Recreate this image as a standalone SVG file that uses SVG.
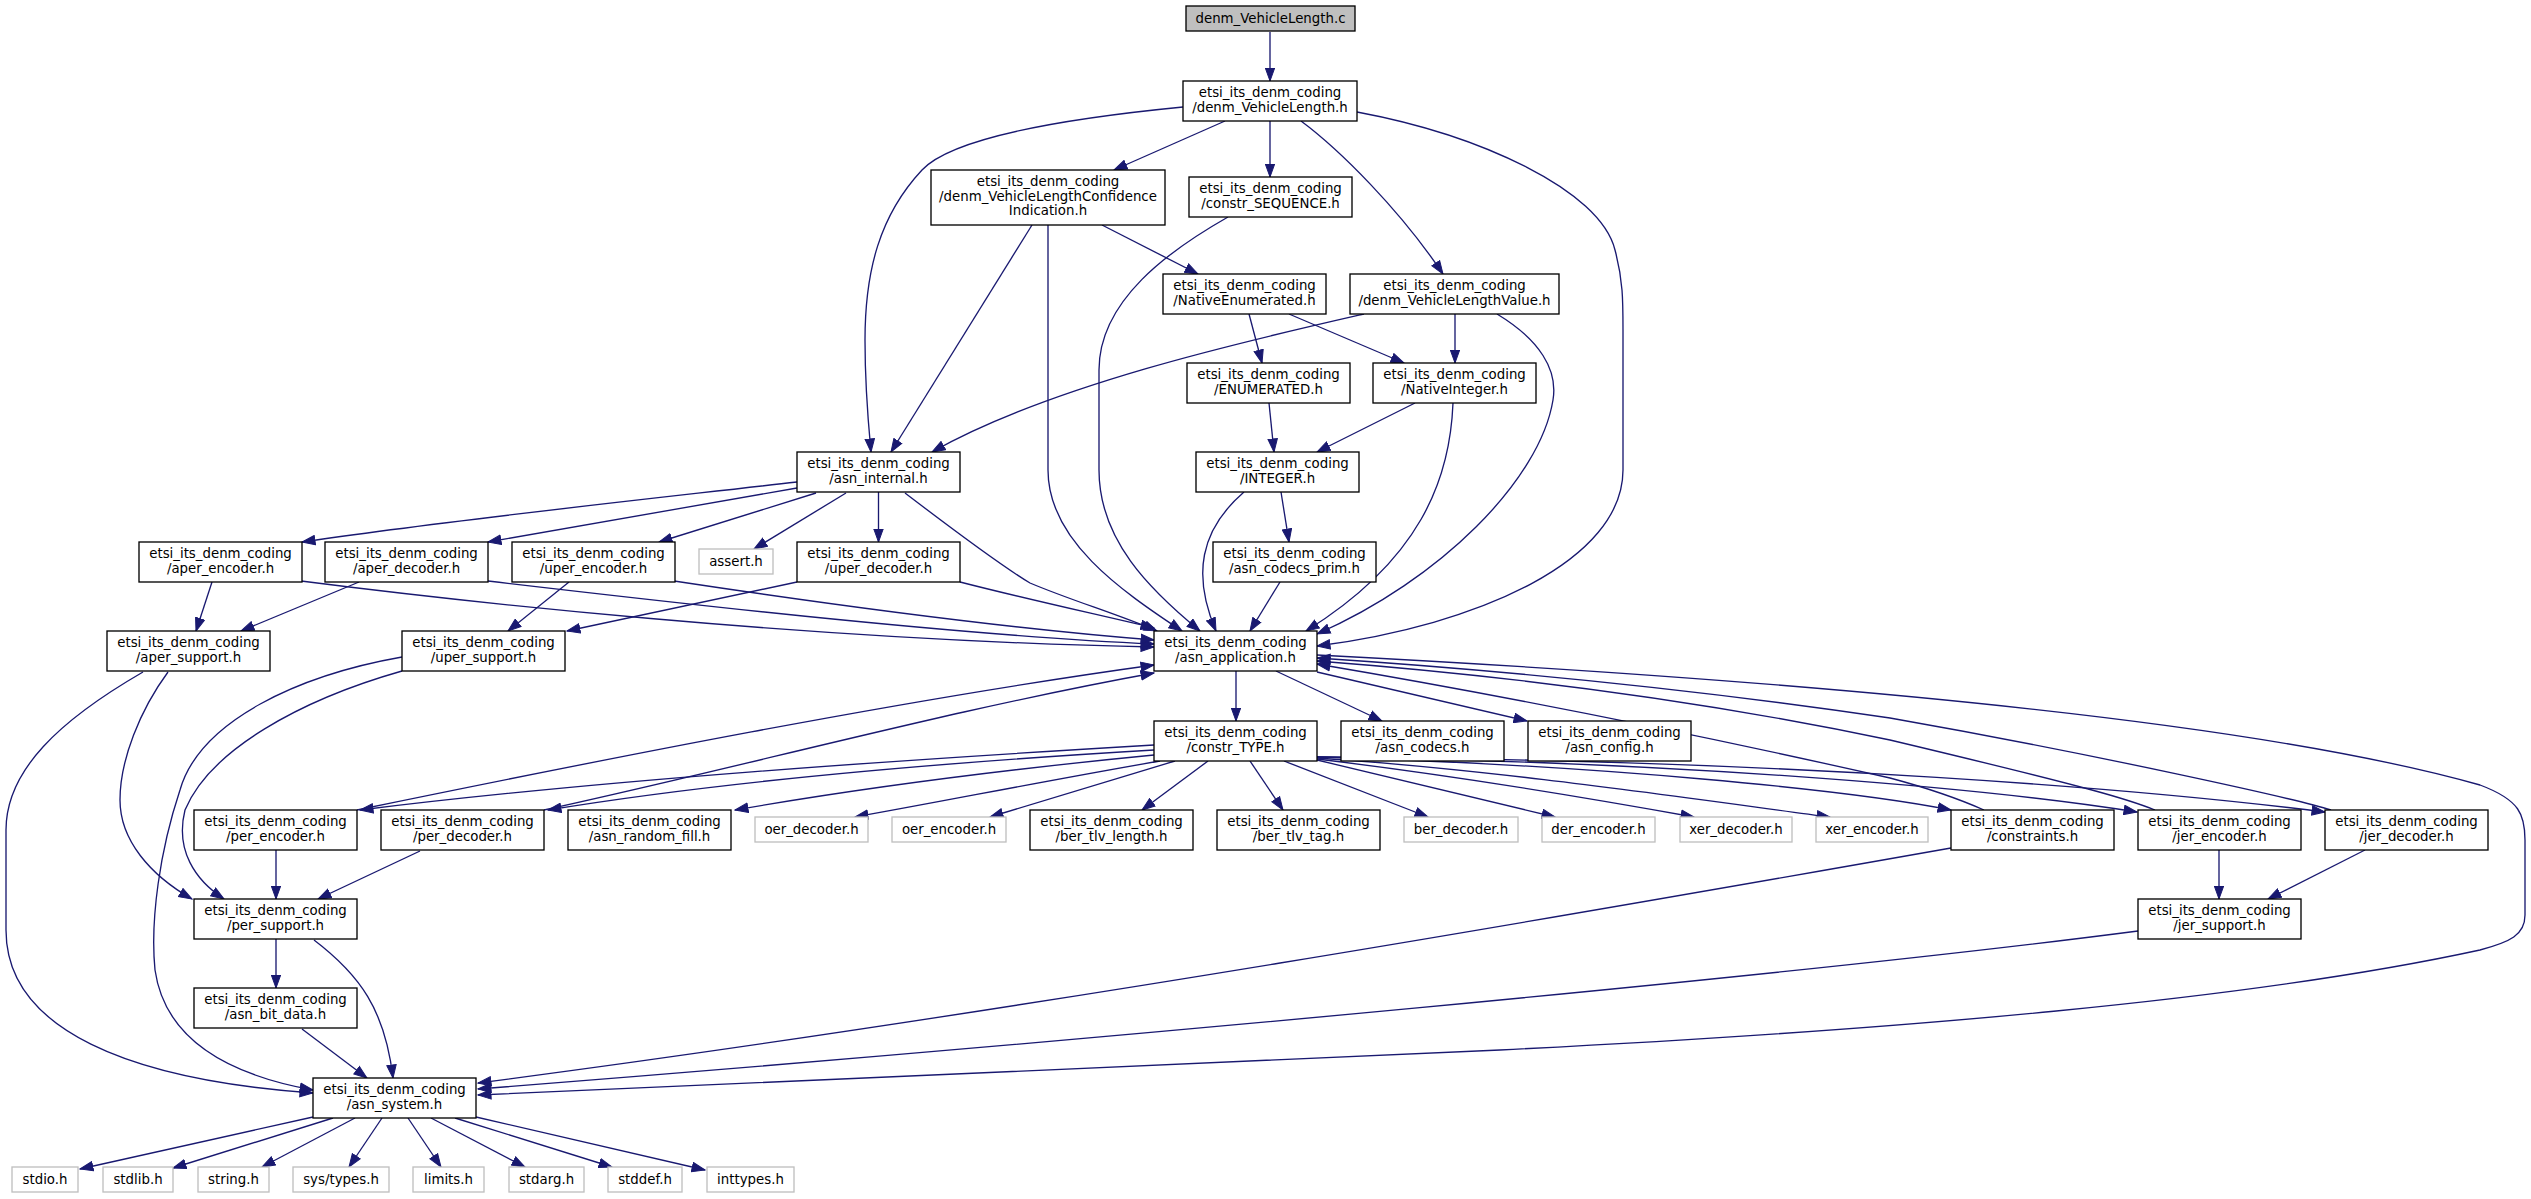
<svg xmlns="http://www.w3.org/2000/svg" width="2531" height="1199" viewBox="0 0 2531 1199">
<style>
.n rect{fill:#fff;stroke:#000;stroke-width:1.33}
.x rect{fill:#fff;stroke:#bfbfbf;stroke-width:1.33}
.top rect{fill:#bfbfbf;stroke:#000;stroke-width:1.33}
text{font-family:"DejaVu Sans","Liberation Sans",sans-serif;font-size:13.33px;fill:#000;text-anchor:middle}
#edges path{fill:none;stroke:#191970;stroke-width:1.33;marker-end:url(#ah)}
</style>
<defs>
<marker id="ah" markerUnits="userSpaceOnUse" markerWidth="15" markerHeight="11" viewBox="0 0 15 11" refX="13.5" refY="5.5" orient="auto"><path d="M0.5,0.8 L13.5,5.5 L0.5,10.2 z" fill="#191970" stroke="#191970" stroke-width="1"/></marker>
</defs>
<rect width="2531" height="1199" fill="#fff"/>
<g id="edges">
<path d="M1270,32 L1270,81"/>
<path d="M1183,107 C1050,120 950,140 922,170 C880,215 865,270 865,340 C865,390 868,420 871,452"/>
<path d="M1225,121 L1114,170"/>
<path d="M1270,121 L1270,177"/>
<path d="M1301,121 C1340,150 1400,210 1443,274"/>
<path d="M1357,112 C1480,135 1600,190 1615,250 C1623,280 1623,300 1623,330 L1623,470 C1623,560 1480,625 1317,646"/>
<path d="M1032,225 L891,452"/>
<path d="M1048,225 L1048,470 C1048,540 1120,590 1182,631"/>
<path d="M1102,225 L1198,274"/>
<path d="M1228,217 C1170,250 1099,300 1099,370 L1099,470 C1099,540 1150,590 1200,631"/>
<path d="M1249,314 L1262,363"/>
<path d="M1289,314 L1404,363"/>
<path d="M1364,314 C1250,340 1050,385 932,452"/>
<path d="M1455,314 L1455,363"/>
<path d="M1497,314 C1540,340 1558,370 1553,400 C1540,480 1440,580 1317,634"/>
<path d="M1415,403 L1317,452"/>
<path d="M1453,403 C1450,480 1420,560 1306,631"/>
<path d="M1269,403 L1274,452"/>
<path d="M1281,492 L1289,542"/>
<path d="M1244,492 C1200,530 1192,575 1216,631"/>
<path d="M1280,582 L1250,631"/>
<path d="M797,482 C640,500 450,520 302,542"/>
<path d="M797,488 L488,542"/>
<path d="M816,493 L659,542"/>
<path d="M846,493 L754,549"/>
<path d="M878.5,492 L878.5,542"/>
<path d="M905,493 C960,535 1000,565 1030,583 C1070,600 1120,615 1157,631"/>
<path d="M212,582 L196,631"/>
<path d="M301,581 C450,600 800,640 1154,647"/>
<path d="M359,582 L241,631"/>
<path d="M488,581 C650,600 950,635 1154,644"/>
<path d="M569,582 L508,631"/>
<path d="M674,581 C800,600 1000,628 1154,640"/>
<path d="M797,582 L567,631"/>
<path d="M960,582 C1030,600 1100,615 1154,628"/>
<path d="M168,672 C140,710 120,760 120,800 C120,840 150,875 192,899"/>
<path d="M143,672 C60,720 6,770 6,830 L6,930 C6,1030 130,1080 313,1093"/>
<path d="M402,671 C300,700 210,750 185,810 C175,850 195,880 224,899"/>
<path d="M402,657 C300,675 200,720 180,790 C160,850 150,920 155,970 C165,1040 230,1075 313,1090"/>
<path d="M276,850 L276,899"/>
<path d="M420,851 L318,899"/>
<path d="M276,939 L276,988"/>
<path d="M314,940 C360,975 385,1010 393,1078"/>
<path d="M302,1029 L367,1078"/>
<path d="M313,1117 L80,1169"/>
<path d="M333,1118 L173,1168"/>
<path d="M355,1118 L262,1167"/>
<path d="M382,1118 L349,1167"/>
<path d="M408,1118 L441,1167"/>
<path d="M431,1118 L525,1167"/>
<path d="M455,1118 L612,1167"/>
<path d="M476,1117 L705,1170"/>
<path d="M1236,671 L1236,721"/>
<path d="M1276,671 L1382,721"/>
<path d="M1317,672 L1527,721"/>
<path d="M1317,655 C1800,680 2250,720 2480,785 C2520,800 2525,815 2525,840 L2525,915 C2525,935 2510,942 2480,950 C2250,1000 1900,1030 1500,1050 C1100,1070 700,1085 478,1095"/>
<path d="M357,810 C600,760 900,700 1154,665"/>
<path d="M544,810 C750,765 950,710 1154,673"/>
<path d="M1984,810 C1950,795 1920,786 1890,778 C1700,735 1500,695 1317,664"/>
<path d="M2155,810 C2130,800 2100,790 1890,740 C1700,700 1500,675 1317,661"/>
<path d="M2331,810 C2300,800 2100,755 1890,718 C1700,690 1500,670 1317,658"/>
<path d="M1154,745 C900,760 600,780 360,810"/>
<path d="M1154,750 C900,765 700,785 548,810"/>
<path d="M1154,755 C1000,770 850,790 735,810"/>
<path d="M1160,761 C1050,780 950,800 855,817"/>
<path d="M1175,761 L990,817"/>
<path d="M1208,761 L1142,810"/>
<path d="M1250,761 L1283,810"/>
<path d="M1284,761 L1428,817"/>
<path d="M1317,760 L1555,817"/>
<path d="M1317,759 C1450,775 1600,800 1694,817"/>
<path d="M1317,758 C1500,770 1700,800 1830,817"/>
<path d="M1317,757 C1600,765 1850,790 1951,810"/>
<path d="M1317,757 C1700,762 2000,790 2137,812"/>
<path d="M1317,757 C1800,760 2150,790 2325,812"/>
<path d="M2219,850 L2219,899"/>
<path d="M2365,850 L2268,899"/>
<path d="M1951,848 C1600,910 1000,1015 478,1083"/>
<path d="M2138,931 C1800,975 1100,1040 478,1089"/>
</g>
<g id="n_c" class="top"><rect x="1186" y="6" width="169" height="25"/><text x="1270.5" y="23">denm_VehicleLength.c</text></g>
<g id="n_vl" class="n"><rect x="1183" y="81" width="174" height="40"/><text x="1270" y="97">etsi_its_denm_coding</text><text x="1270" y="111.7">/denm_VehicleLength.h</text></g>
<g id="n_ci" class="n"><rect x="931" y="170" width="234" height="55"/><text x="1048" y="186">etsi_its_denm_coding</text><text x="1048" y="200.7">/denm_VehicleLengthConfidence</text><text x="1048" y="215.3">Indication.h</text></g>
<g id="n_seq" class="n"><rect x="1189" y="177" width="163" height="40"/><text x="1270.5" y="193">etsi_its_denm_coding</text><text x="1270.5" y="207.7">/constr_SEQUENCE.h</text></g>
<g id="n_ne" class="n"><rect x="1163" y="274" width="163" height="40"/><text x="1244.5" y="290">etsi_its_denm_coding</text><text x="1244.5" y="304.7">/NativeEnumerated.h</text></g>
<g id="n_vlv" class="n"><rect x="1350" y="274" width="209" height="40"/><text x="1454.5" y="290">etsi_its_denm_coding</text><text x="1454.5" y="304.7">/denm_VehicleLengthValue.h</text></g>
<g id="n_enum" class="n"><rect x="1187" y="363" width="163" height="40"/><text x="1268.5" y="379">etsi_its_denm_coding</text><text x="1268.5" y="393.7">/ENUMERATED.h</text></g>
<g id="n_ni" class="n"><rect x="1373" y="363" width="163" height="40"/><text x="1454.5" y="379">etsi_its_denm_coding</text><text x="1454.5" y="393.7">/NativeInteger.h</text></g>
<g id="n_ai" class="n"><rect x="797" y="452" width="163" height="40"/><text x="878.5" y="468">etsi_its_denm_coding</text><text x="878.5" y="482.7">/asn_internal.h</text></g>
<g id="n_int" class="n"><rect x="1196" y="452" width="163" height="40"/><text x="1277.5" y="468">etsi_its_denm_coding</text><text x="1277.5" y="482.7">/INTEGER.h</text></g>
<g id="n_assert" class="x"><rect x="699" y="549" width="74" height="25"/><text x="736" y="566">assert.h</text></g>
<g id="n_ae" class="n"><rect x="139" y="542" width="163" height="40"/><text x="220.5" y="558">etsi_its_denm_coding</text><text x="220.5" y="572.7">/aper_encoder.h</text></g>
<g id="n_ad" class="n"><rect x="325" y="542" width="163" height="40"/><text x="406.5" y="558">etsi_its_denm_coding</text><text x="406.5" y="572.7">/aper_decoder.h</text></g>
<g id="n_ue" class="n"><rect x="512" y="542" width="163" height="40"/><text x="593.5" y="558">etsi_its_denm_coding</text><text x="593.5" y="572.7">/uper_encoder.h</text></g>
<g id="n_ud" class="n"><rect x="797" y="542" width="163" height="40"/><text x="878.5" y="558">etsi_its_denm_coding</text><text x="878.5" y="572.7">/uper_decoder.h</text></g>
<g id="n_acp" class="n"><rect x="1213" y="542" width="163" height="40"/><text x="1294.5" y="558">etsi_its_denm_coding</text><text x="1294.5" y="572.7">/asn_codecs_prim.h</text></g>
<g id="n_as" class="n"><rect x="107" y="631" width="163" height="40"/><text x="188.5" y="647">etsi_its_denm_coding</text><text x="188.5" y="661.7">/aper_support.h</text></g>
<g id="n_us" class="n"><rect x="402" y="631" width="163" height="40"/><text x="483.5" y="647">etsi_its_denm_coding</text><text x="483.5" y="661.7">/uper_support.h</text></g>
<g id="n_app" class="n"><rect x="1154" y="631" width="163" height="40"/><text x="1235.5" y="647">etsi_its_denm_coding</text><text x="1235.5" y="661.7">/asn_application.h</text></g>
<g id="n_ct" class="n"><rect x="1154" y="721" width="163" height="40"/><text x="1235.5" y="737">etsi_its_denm_coding</text><text x="1235.5" y="751.7">/constr_TYPE.h</text></g>
<g id="n_acs" class="n"><rect x="1341" y="721" width="163" height="40"/><text x="1422.5" y="737">etsi_its_denm_coding</text><text x="1422.5" y="751.7">/asn_codecs.h</text></g>
<g id="n_acf" class="n"><rect x="1528" y="721" width="163" height="40"/><text x="1609.5" y="737">etsi_its_denm_coding</text><text x="1609.5" y="751.7">/asn_config.h</text></g>
<g id="n_pe" class="n"><rect x="194" y="810" width="163" height="40"/><text x="275.5" y="826">etsi_its_denm_coding</text><text x="275.5" y="840.7">/per_encoder.h</text></g>
<g id="n_pd" class="n"><rect x="381" y="810" width="163" height="40"/><text x="462.5" y="826">etsi_its_denm_coding</text><text x="462.5" y="840.7">/per_decoder.h</text></g>
<g id="n_arf" class="n"><rect x="568" y="810" width="163" height="40"/><text x="649.5" y="826">etsi_its_denm_coding</text><text x="649.5" y="840.7">/asn_random_fill.h</text></g>
<g id="n_oerd" class="x"><rect x="755" y="817" width="113" height="25"/><text x="811.5" y="834">oer_decoder.h</text></g>
<g id="n_oere" class="x"><rect x="892" y="817" width="114" height="25"/><text x="949" y="834">oer_encoder.h</text></g>
<g id="n_btl" class="n"><rect x="1030" y="810" width="163" height="40"/><text x="1111.5" y="826">etsi_its_denm_coding</text><text x="1111.5" y="840.7">/ber_tlv_length.h</text></g>
<g id="n_btt" class="n"><rect x="1217" y="810" width="163" height="40"/><text x="1298.5" y="826">etsi_its_denm_coding</text><text x="1298.5" y="840.7">/ber_tlv_tag.h</text></g>
<g id="n_berd" class="x"><rect x="1404" y="817" width="114" height="25"/><text x="1461" y="834">ber_decoder.h</text></g>
<g id="n_dere" class="x"><rect x="1542" y="817" width="113" height="25"/><text x="1598.5" y="834">der_encoder.h</text></g>
<g id="n_xerd" class="x"><rect x="1680" y="817" width="112" height="25"/><text x="1736" y="834">xer_decoder.h</text></g>
<g id="n_xere" class="x"><rect x="1816" y="817" width="112" height="25"/><text x="1872" y="834">xer_encoder.h</text></g>
<g id="n_cons" class="n"><rect x="1951" y="810" width="163" height="40"/><text x="2032.5" y="826">etsi_its_denm_coding</text><text x="2032.5" y="840.7">/constraints.h</text></g>
<g id="n_je" class="n"><rect x="2138" y="810" width="163" height="40"/><text x="2219.5" y="826">etsi_its_denm_coding</text><text x="2219.5" y="840.7">/jer_encoder.h</text></g>
<g id="n_jd" class="n"><rect x="2325" y="810" width="163" height="40"/><text x="2406.5" y="826">etsi_its_denm_coding</text><text x="2406.5" y="840.7">/jer_decoder.h</text></g>
<g id="n_ps" class="n"><rect x="194" y="899" width="163" height="40"/><text x="275.5" y="915">etsi_its_denm_coding</text><text x="275.5" y="929.7">/per_support.h</text></g>
<g id="n_js" class="n"><rect x="2138" y="899" width="163" height="40"/><text x="2219.5" y="915">etsi_its_denm_coding</text><text x="2219.5" y="929.7">/jer_support.h</text></g>
<g id="n_abd" class="n"><rect x="194" y="988" width="163" height="40"/><text x="275.5" y="1004">etsi_its_denm_coding</text><text x="275.5" y="1018.7">/asn_bit_data.h</text></g>
<g id="n_sys" class="n"><rect x="313" y="1078" width="163" height="40"/><text x="394.5" y="1094">etsi_its_denm_coding</text><text x="394.5" y="1108.7">/asn_system.h</text></g>
<g id="n_stdio" class="x"><rect x="12" y="1167" width="66" height="25"/><text x="45" y="1184">stdio.h</text></g>
<g id="n_stdlib" class="x"><rect x="103" y="1167" width="70" height="25"/><text x="138" y="1184">stdlib.h</text></g>
<g id="n_string" class="x"><rect x="198" y="1167" width="71" height="25"/><text x="233.5" y="1184">string.h</text></g>
<g id="n_systypes" class="x"><rect x="293" y="1167" width="96" height="25"/><text x="341" y="1184">sys/types.h</text></g>
<g id="n_limits" class="x"><rect x="413" y="1167" width="71" height="25"/><text x="448.5" y="1184">limits.h</text></g>
<g id="n_stdarg" class="x"><rect x="509" y="1167" width="75" height="25"/><text x="546.5" y="1184">stdarg.h</text></g>
<g id="n_stddef" class="x"><rect x="608" y="1167" width="74" height="25"/><text x="645" y="1184">stddef.h</text></g>
<g id="n_inttypes" class="x"><rect x="707" y="1167" width="87" height="25"/><text x="750.5" y="1184">inttypes.h</text></g>
</svg>
